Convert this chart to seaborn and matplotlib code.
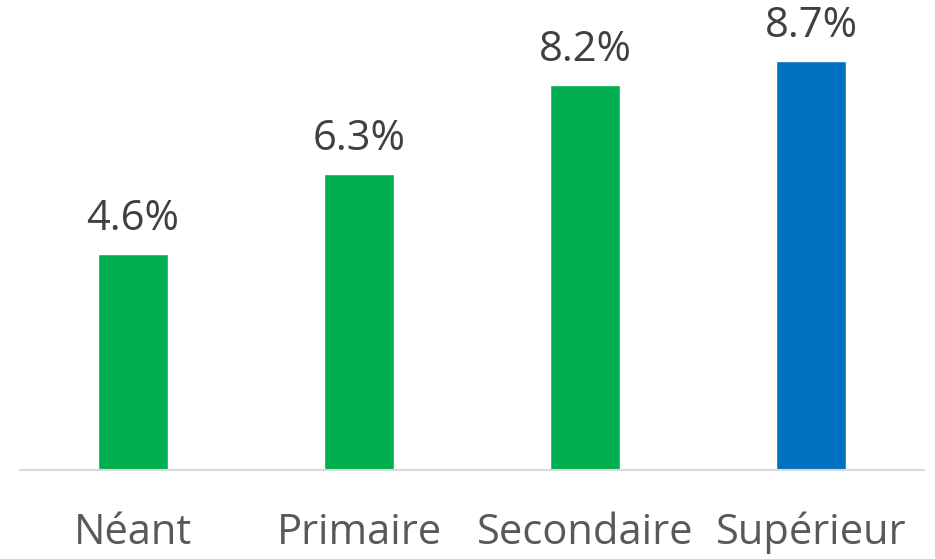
import matplotlib
matplotlib.use("Agg")
import matplotlib.pyplot as plt
import seaborn as sns
import pandas as pd

categories = ["Néant", "Primaire", "Secondaire", "Supérieur"]
values = [4.6, 6.3, 8.2, 8.7]
bar_colors = ["#00B050", "#00B050", "#00B050", "#0070C0"]

sns.set_theme(style="white")
plt.rcParams["font.family"] = ["Open Sans", "DejaVu Sans"]

df = pd.DataFrame({"niveau": categories, "taux": values})

fig = plt.figure(figsize=(9.35, 5.59), dpi=100)
ax = fig.add_axes([20 / 935, 1 - 470 / 559, 904 / 935, 470 / 559])

sns.barplot(data=df, x="niveau", y="taux", hue="niveau", palette=bar_colors,
            width=0.31, legend=False, ax=ax, saturation=1)

ax.set_ylim(0, 10)
ax.set_xlim(-0.5, 3.5)
for i, v in enumerate(values):
    ax.annotate(f"{v:.1f}%", (i, v), xytext=(0, 17), textcoords="offset points",
                ha="center", va="baseline", fontsize=30, color="#404040",
                annotation_clip=False)

ax.set_xlabel("")
ax.set_ylabel("")
ax.set_yticks([])
ax.tick_params(axis="x", length=0, pad=30, labelsize=30, labelcolor="#595959")
for s in ["top", "left", "right"]:
    ax.spines[s].set_visible(False)
ax.spines["bottom"].set_color("#D9D9D9")
ax.spines["bottom"].set_linewidth(1.5)
ax.patch.set_alpha(0)

fig.savefig("out.png", dpi=100)
